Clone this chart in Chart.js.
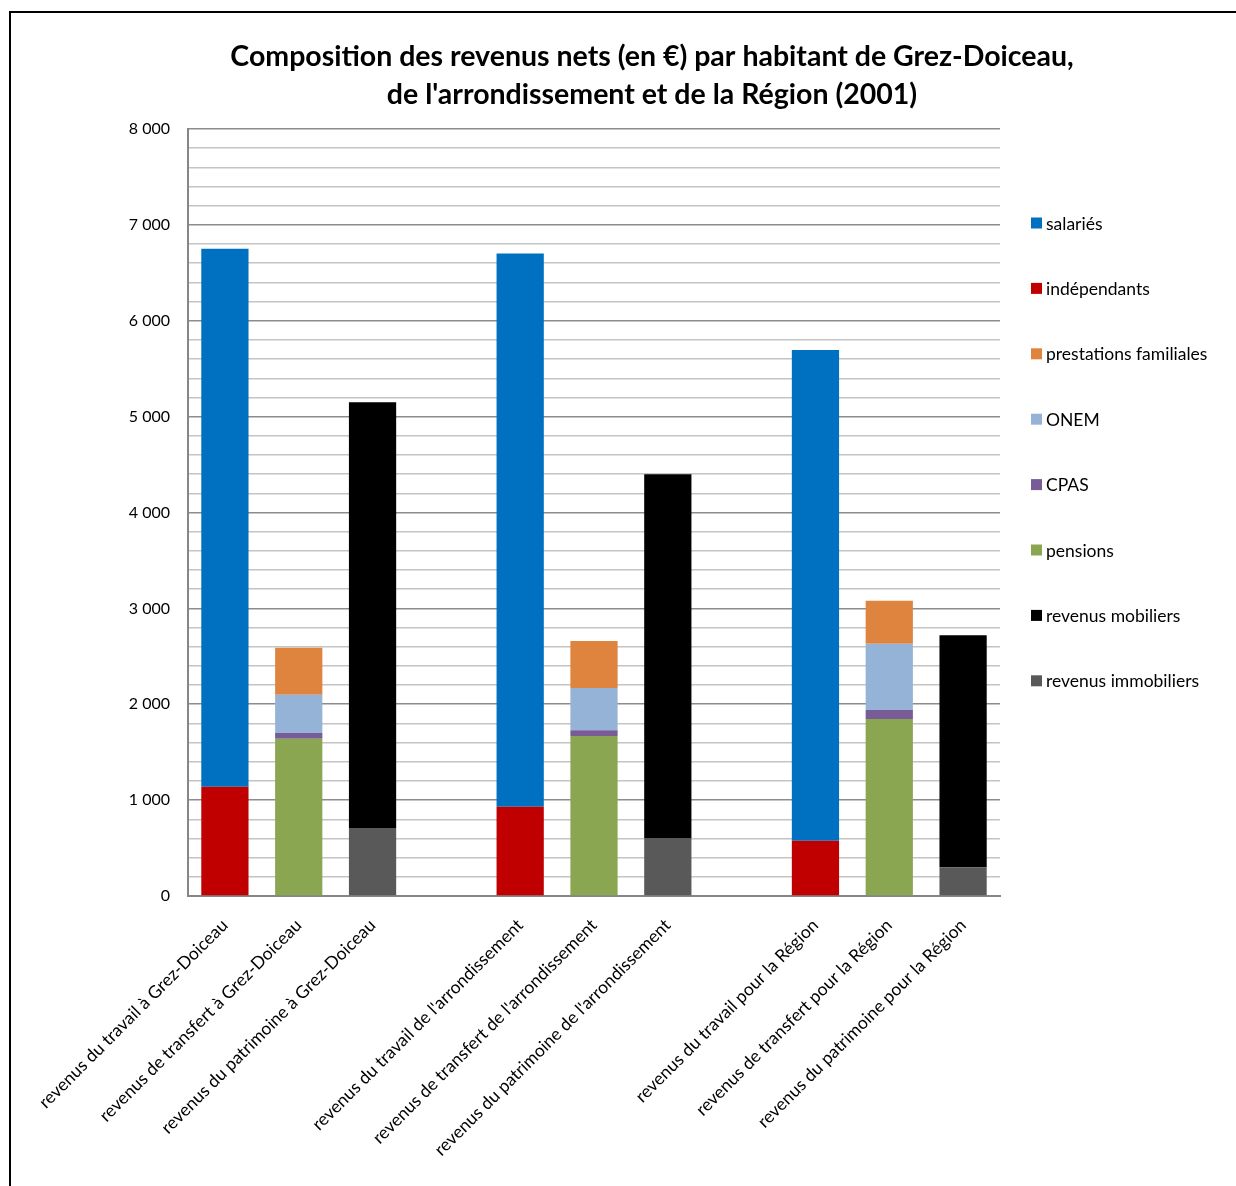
<!DOCTYPE html>
<html><head><meta charset="utf-8">
<script src="https://cdn.jsdelivr.net/npm/chart.js@4.4.0/dist/chart.umd.min.js"></script>
<style>
html,body{margin:0;padding:0;background:#fff;}
#frame{position:absolute;left:9px;top:11px;width:1225px;height:1200px;border:2px solid #000;}
#wrap{position:absolute;left:0;top:0;width:1225px;height:1173px;}
</style></head><body>
<div id="frame"><div id="wrap"><canvas id="c"></canvas></div></div>
<script>
const categories = [
  "revenus du travail à Grez-Doiceau",
  "revenus de transfert à Grez-Doiceau",
  "revenus du patrimoine à Grez-Doiceau",
  "",
  "revenus du travail de l'arrondissement",
  "revenus de transfert de l'arrondissement",
  "revenus du patrimoine de l'arrondissement",
  "",
  "revenus du travail pour la Région",
  "revenus de transfert pour la Région",
  "revenus du patrimoine pour la Région"
];
const salaries      = [5610, null, null, null, 5770, null, null, null, 5120, null, null];
const independants  = [1140, null, null, null,  930, null, null, null,  575, null, null];
const prestations   = [null,  490, null, null, null,  490, null, null, null,  450, null];
const onem          = [null,  400, null, null, null,  440, null, null, null,  690, null];
const cpas          = [null,   60, null, null, null,   60, null, null, null,   95, null];
const pensions      = [null, 1640, null, null, null, 1670, null, null, null, 1845, null];
const mobiliers     = [null, null, 4440, null, null, null, 3795, null, null, null, 2420];
const immobiliers   = [null, null,  710, null, null, null,  605, null, null, null,  300];
const yTicks = [0, 1000, 2000, 3000, 4000, 5000, 6000, 7000, 8000];

const FONT = 'Lato, "Open Sans", sans-serif';
const ds = (label, data, color) => ({label, data, backgroundColor: color, borderWidth: 0, stack: 's'});

// Legend drawn to the right of the plot (Excel-like spacing)
const sideLegend = {
  id: 'sideLegend',
  afterDraw(chart) {
    const ctx = chart.ctx;
    const area = chart.chartArea;
    const items = chart.data.datasets.slice().reverse();
    const x0 = area.right + 31, yFirst = 210, step = 65.4, box = 11;
    ctx.save();
    ctx.font = '17.5px ' + FONT;
    ctx.textBaseline = 'middle';
    ctx.textAlign = 'left';
    items.forEach((d, i) => {
      const y = yFirst + i * step;
      ctx.fillStyle = d.backgroundColor;
      ctx.fillRect(x0, y - box / 2, box, box);
      ctx.fillStyle = '#000';
      ctx.fillText(d.label, x0 + box + 4, y + 1);
    });
    ctx.restore();
  }
};

new Chart(document.getElementById('c'), {
  type: 'bar',
  data: {
    labels: categories,
    datasets: [
      ds('revenus immobiliers', immobiliers, '#595959'),
      ds('revenus mobiliers', mobiliers, '#000000'),
      ds('pensions', pensions, '#8BA650'),
      ds('CPAS', cpas, '#775C97'),
      ds('ONEM', onem, '#95B3D7'),
      ds('prestations familiales', prestations, '#DE843F'),
      ds('indépendants', independants, '#C00000'),
      ds('salariés', salaries, '#0070C0')
    ]
  },
  plugins: [sideLegend],
  options: {
    responsive: true,
    maintainAspectRatio: false,
    animation: false,
    layout: {padding: {left: 57, right: 0, top: 0, bottom: 0}},
    datasets: {bar: {categoryPercentage: 1.0, barPercentage: 0.64}},
    plugins: {
      title: {
        display: true,
        text: ["Composition des revenus nets (en €) par habitant de Grez-Doiceau,", "de l'arrondissement et de la Région (2001)"],
        color: '#000',
        font: {family: FONT, size: 28.5, weight: 'bold', lineHeight: 1.333},
        padding: {top: 25, bottom: 15}
      },
      legend: {display: false},
      tooltip: {enabled: false}
    },
    scales: {
      x: {
        stacked: true,
        grid: {display: false, drawTicks: false},
        border: {display: true, color: '#868686', width: 2},
        afterFit: s => { s.height = 290; },
        ticks: {
          autoSkip: false, maxRotation: 45, minRotation: 45,
          color: '#000', font: {family: FONT, size: 17.5}, padding: 19
        }
      },
      y: {
        stacked: true,
        min: 0, max: 8000,
        border: {display: true, color: '#868686', width: 2},
        afterFit: s => { s.width = 120; },
        grid: {
          drawTicks: false,
          color: ctx => (ctx.tick && ctx.tick.value % 1000 === 0) ? '#8C8C8C' : '#C4C4C4',
          lineWidth: 1.5
        },
        ticks: {
          stepSize: 200,
          autoSkip: false,
          padding: 18,
          color: '#000',
          font: {family: FONT, size: 16},
          callback: v => yTicks.includes(v) ? (v === 0 ? '0' : (v / 1000) + ' 000') : ''
        }
      },
      yRight: {
        position: 'right',
        display: true,
        grid: {display: false, drawTicks: false},
        border: {display: false},
        ticks: {display: false},
        afterFit: s => { s.width = 236; }
      }
    }
  }
});
</script>
</body></html>
